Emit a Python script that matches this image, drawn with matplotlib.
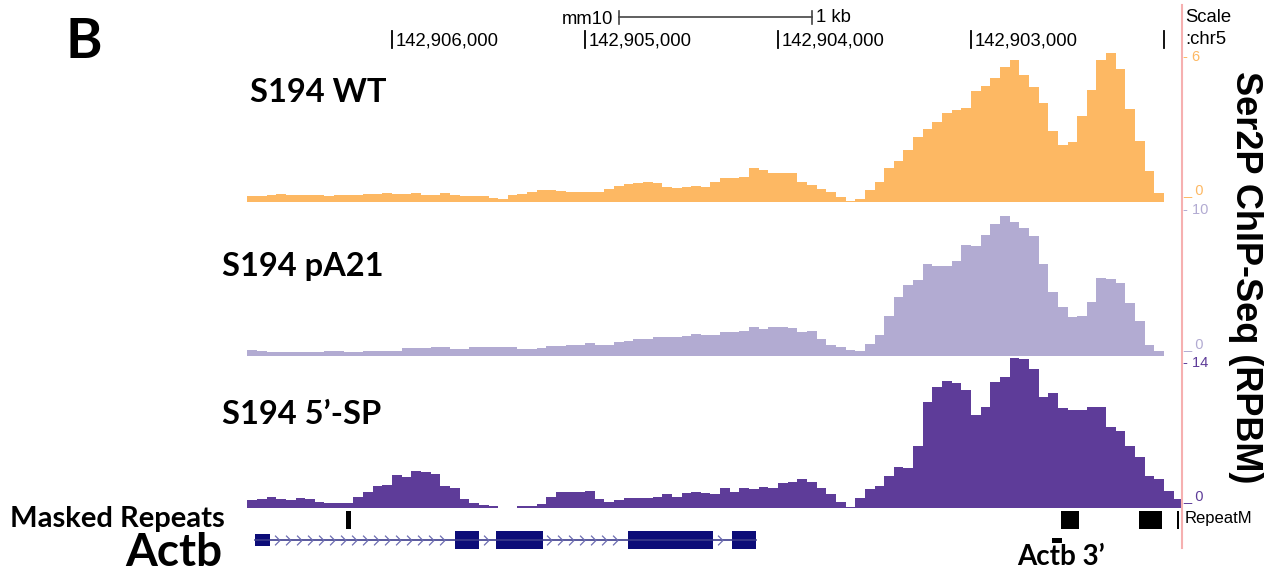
import numpy as np
import matplotlib
matplotlib.use('Agg')
import matplotlib.pyplot as plt
from matplotlib.path import Path
from matplotlib.lines import Line2D

# genome browser window, chr5 (mm10), drawn right-to-left like UCSC
view_left = 142906756
view_right = 142901906
bin_start = 142906750
bin_size = 50

# Ser2P ChIP-Seq signal (RPBM), 50 bp bins from bin_start going right
wt_vals = [0.21, 0.21, 0.25, 0.32, 0.28, 0.25, 0.25, 0.25, 0.21, 0.28,
           0.25, 0.26, 0.30, 0.30, 0.34, 0.30, 0.30, 0.34, 0.28, 0.28,
           0.34, 0.28, 0.21, 0.21, 0.21, 0.14, 0.10, 0.25, 0.30, 0.39,
           0.47, 0.48, 0.43, 0.41, 0.41, 0.39, 0.41, 0.51, 0.66, 0.72,
           0.76, 0.80, 0.76, 0.62, 0.58, 0.62, 0.65, 0.62, 0.82, 0.96,
           0.98, 1.02, 1.40, 1.31, 1.17, 1.17, 1.17, 0.82, 0.69, 0.51,
           0.40, 0.19, 0.03, 0.10, 0.47, 0.82, 1.40, 1.68, 2.14, 2.68,
           3.01, 3.31, 3.67, 3.82, 3.88, 4.60, 4.80, 5.12, 5.58, 5.87,
           5.25, 4.75, 4.10, 2.94, 2.35, 2.47, 3.57, 4.62, 5.87, 6.16,
           5.49, 3.84, 2.53, 1.27, 0.35]
pa21_vals = [0.36, 0.34, 0.27, 0.23, 0.23, 0.27, 0.27, 0.27, 0.34, 0.34,
             0.27, 0.27, 0.34, 0.34, 0.34, 0.34, 0.50, 0.50, 0.50, 0.57,
             0.57, 0.48, 0.46, 0.57, 0.57, 0.55, 0.57, 0.57, 0.46, 0.46,
             0.50, 0.64, 0.68, 0.73, 0.75, 0.84, 0.73, 0.75, 0.96, 1.03,
             1.14, 1.16, 1.25, 1.25, 1.28, 1.37, 1.46, 1.42, 1.42, 1.62,
             1.62, 1.69, 1.97, 1.83, 1.97, 1.97, 1.87, 1.62, 1.69, 1.16,
             0.73, 0.60, 0.39, 0.32, 0.80, 1.42, 2.72, 4.02, 4.84, 5.16,
             6.28, 6.14, 6.14, 6.49, 7.58, 7.51, 8.27, 9.02, 9.57, 9.16,
             8.75, 8.20, 6.28, 4.36, 3.34, 2.65, 2.72, 3.68, 5.34, 5.25,
             4.98, 3.61, 2.38, 0.73, 0.32]
sp5_vals = [0.77, 0.87, 1.06, 0.87, 0.77, 0.90, 0.82, 0.58, 0.48, 0.48,
            0.48, 0.97, 1.55, 2.13, 2.22, 3.19, 2.99, 3.57, 3.45, 3.28,
            2.13, 1.90, 0.87, 0.43, 0.29, 0.16, 0.0, 0.0, 0.16, 0.19,
            0.32, 0.97, 1.55, 1.48, 1.50, 1.57, 0.87, 0.58, 0.68, 0.94,
            0.94, 0.94, 1.01, 1.32, 1.03, 1.38, 1.52, 1.38, 1.28, 1.90,
            1.52, 1.90, 1.81, 2.00, 1.90, 2.39, 2.48, 2.77, 2.48, 1.90,
            1.32, 0.55, 0.07, 0.94, 1.81, 2.10, 3.06, 3.93, 3.84, 5.96,
            10.21, 11.66, 12.24, 12.05, 11.37, 8.95, 9.73, 12.14, 12.63, 14.46,
            14.36, 13.40, 10.69, 11.08, 9.63, 9.44, 9.44, 9.73, 9.73, 7.80,
            7.41, 5.96, 4.90, 3.06, 2.80, 1.60, 0.80]

track_names = ['S194 WT', 'S194 pA21', 'S194 5\u2019-SP']
track_data = [wt_vals, pa21_vals, sp5_vals]
track_max = [6, 10, 14]
track_colors = ['#fdb863', '#b2abd2', '#5e3c99']

ruler_ticks = [142906000, 142905000, 142904000, 142903000, 142902000]
ruler_labels = ['142,906,000', '142,905,000', '142,904,000', '142,903,000', '']

# RepeatMasker hits
repeat_starts = [142906238, 142902533, 142902129, 142901932]
repeat_ends = [142906212, 142902440, 142902010, 142901922]

# Actb gene model
utr_start, utr_end = 142906710, 142906632
exon_starts = [142905675, 142905460, 142904775, 142904240]
exon_ends = [142905550, 142905220, 142904335, 142904115]
actb3_start, actb3_end = 142902580, 142902530

W, H = 1276, 573
fig = plt.figure(figsize=(W / 100, H / 100), dpi=100)

def fx(x):
    return x / W

def fy(y):
    return 1 - y / H

bp_per_px = 1000 / 193.0
x0_px = 392 - (view_left - 142906000) / bp_per_px
x1_px = x0_px + (view_left - view_right) / bp_per_px

calibri = ['Lato', 'DejaVu Sans']
arial = ['Liberation Sans', 'DejaVu Sans']

# overlay axes: genomic x, pixel y
ax = fig.add_axes([fx(x0_px), 0, fx(x1_px - x0_px), 1])
ax.set_xlim(view_left, view_right)
ax.set_ylim(H, 0)
ax.axis('off')

# signal tracks
baselines = [201.5, 355.5, 507.5]
top_ticks = [57, 210, 363]
for name, vals, ymax, col, base, top in zip(track_names, track_data, track_max,
                                            track_colors, baselines, top_ticks):
    span = base - top
    ax_h = span + 12
    tax = fig.add_axes([fx(x0_px), 1 - base / H, fx(x1_px - x0_px), ax_h / H])
    tax.set_xlim(view_left, view_right)
    tax.set_ylim(0, ymax * ax_h / span)
    tax.axis('off')
    edges = bin_start - bin_size * np.arange(len(vals) + 1)
    tax.stairs(vals, edges, fill=True, color=col, linewidth=0)
    fig.text(fx(1183), fy(top), '- %d' % ymax, color=col, fontsize=10.5,
             family=arial, va='center', ha='left')
    fig.text(fx(1183), fy(base - 7), '_ 0', color=col, fontsize=10.5,
             family=arial, va='baseline', ha='left')

# track labels
fig.text(fx(250), fy(101.5), track_names[0], fontsize=23.5, weight='bold', family=calibri)
fig.text(fx(222), fy(276), track_names[1], fontsize=23.5, weight='bold', family=calibri)
fig.text(fx(222), fy(424), track_names[2], fontsize=23.5, weight='bold', family=calibri)

# ruler
for t, lab in zip(ruler_ticks, ruler_labels):
    ax.plot([t, t], [31, 48], color='black', lw=1.3)
    ax.text(t - 18, 41, lab, fontsize=13.3, family=arial, va='center', ha='left')
sb_start = 142904823
ax.plot([sb_start, sb_start - 1000], [17, 17], color='#444444', lw=1.2)
ax.plot([sb_start, sb_start], [11, 24], color='#444444', lw=1.2)
ax.plot([sb_start - 1000, sb_start - 1000], [11, 24], color='#444444', lw=1.2)
ax.text(sb_start + 30, 20, 'mm10', fontsize=13.3, family=arial, va='center', ha='right')
ax.text(sb_start - 1020, 17, '1 kb', fontsize=13.3, family=arial, va='center', ha='left')
fig.text(fx(1185), fy(17), 'Scale', fontsize=13.3, family=arial, va='center')
fig.text(fx(1185), fy(39), ':chr5', fontsize=13.3, family=arial, va='center')

# repeats
for s, e in zip(repeat_starts, repeat_ends):
    ax.fill_between([s, e], 511, 529, color='black', linewidth=0)
fig.text(fx(1185), fy(519), 'RepeatM', fontsize=12, family=arial, va='center')

# gene model
ax.plot([utr_start, exon_ends[-1]], [540, 540], color='#3c3c8c', lw=1.2)
chevron = Path([(-0.5, 1), (0.5, 0), (-0.5, -1)],
               [Path.MOVETO, Path.LINETO, Path.LINETO])
intron_left = [utr_end] + exon_ends[:-1]
intron_right = exon_starts
for a, b in zip(intron_left, intron_right):
    xs = np.arange(a - 35, b + 20, -57)
    ax.plot(xs, [540] * len(xs), ls='none', marker=chevron, ms=7, mew=0.9,
            mfc='none', mec='#6b6bb0')
ax.fill_between([utr_start, utr_end], 534, 546, color='#0c0c78', linewidth=0)
for s, e in zip(exon_starts, exon_ends):
    ax.fill_between([s, e], 531, 549, color='#0c0c78', linewidth=0)
ax.fill_between([actb3_start, actb3_end], 538, 543, color='black', linewidth=0)

fig.text(fx(10), fy(527), 'Masked Repeats', fontsize=21, weight='bold', family=calibri)
fig.text(fx(125), fy(566), 'Actb', fontsize=33, weight='bold', family=calibri)
fig.text(fx(1017), fy(565), 'Actb 3\u2019', fontsize=20, weight='bold', family=calibri)
fig.text(fx(66), fy(58), 'B', fontsize=40, weight='bold', family=calibri)

# right axis title
fig.text(fx(1245), fy(277), 'Ser2P ChIP-Seq (RPBM)', rotation=270, fontsize=26,
         weight='bold', family=arial, ha='center', va='center')

# browser separator line
fig.add_artist(Line2D([fx(1182), fx(1182)], [fy(5), fy(548)], color='#f6b0b0',
                      lw=1.5, transform=fig.transFigure))

fig.savefig('out.png', dpi=100)
